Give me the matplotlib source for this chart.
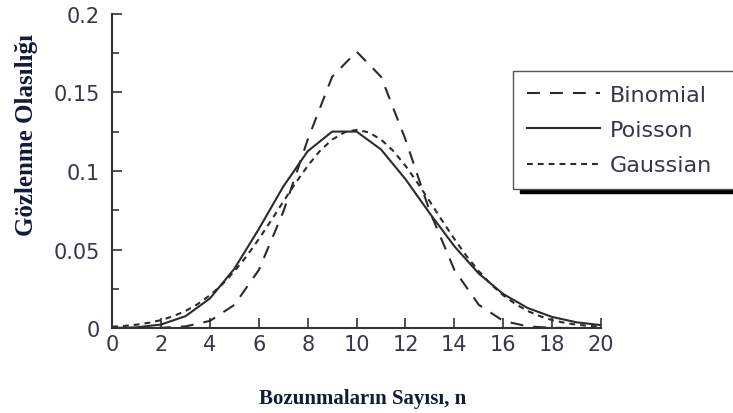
import numpy as np
import matplotlib.pyplot as plt

# number of decays
n = list(range(21))

binomial = [0.0, 0.0, 0.0002, 0.0011, 0.0046, 0.0148, 0.037, 0.074, 0.120, 0.160,
            0.176, 0.160, 0.120, 0.074, 0.037, 0.0148, 0.0046, 0.0011, 0.0002, 0.0, 0.0]
poisson = [0.0001, 0.0005, 0.0023, 0.0076, 0.0189, 0.0378, 0.0631, 0.0901, 0.1126, 0.1251,
           0.1251, 0.1137, 0.0948, 0.0729, 0.0521, 0.0347, 0.0217, 0.0128, 0.0071, 0.0037, 0.0019]

n_fine = [i / 2 for i in range(41)]
gauss_half = [0.0009, 0.0014, 0.0022, 0.0034, 0.0051, 0.0076, 0.0109, 0.0153, 0.0209, 0.0278,
              0.0362, 0.0458, 0.0567, 0.0684, 0.0805, 0.0923, 0.1033, 0.1128, 0.1200, 0.1246,
              0.1262]
gaussian = gauss_half + gauss_half[-2::-1]

xticks = [0, 2, 4, 6, 8, 10, 12, 14, 16, 18, 20]
yticks = [0, 0.05, 0.1, 0.15, 0.2]
ytick_labels = ['0', '0.05', '0.1', '0.15', '0.2']

plt.rcParams['font.family'] = ['DejaVu Sans']

fig = plt.figure(figsize=(7.33, 4.14), dpi=100)
ax = fig.add_axes([0.153, 0.205, 0.667, 0.759])

line_col = '#2b2b2b'
ax.plot(n, binomial, color=line_col, lw=1.5, dashes=(6.2, 4.8), label='Binomial')
ax.plot(n, poisson, color=line_col, lw=1.5, label='Poisson')
ax.plot(n_fine, gaussian, color=line_col, lw=1.5, dashes=(2.8, 2.4), label='Gaussian')

ax.set_xlim(0, 20)
ax.set_ylim(0, 0.2)
ax.spines['top'].set_visible(False)
ax.spines['right'].set_visible(False)
for s in ('left', 'bottom'):
    ax.spines[s].set_color('#333333')
    ax.spines[s].set_linewidth(1.5)

text_col = '#343848'
ax.set_xticks(xticks)
ax.set_yticks(yticks)
ax.set_yticklabels(ytick_labels)
ax.set_yticks(np.arange(0.025, 0.2, 0.05), minor=True)
ax.tick_params(axis='both', which='both', direction='in', color='#333333', width=1.2,
               labelsize=15, labelcolor=text_col)
ax.tick_params(axis='both', which='major', length=7)
ax.tick_params(axis='y', which='minor', length=5)
ax.tick_params(axis='x', pad=4)
ax.tick_params(axis='y', pad=9)

ax.set_ylabel('Gözlenme Olasılığı', family='Liberation Serif', fontweight='bold',
              fontsize=18, color='#121a3a')
ax.yaxis.set_label_coords(-0.151, 0.618)
ax.set_xlabel('Bozunmaların Sayısı, n', family='Liberation Serif', fontweight='bold',
              fontsize=15, color='#121a3a')
ax.xaxis.set_label_coords(0.513, -0.19)

leg = ax.legend(loc='upper left', bbox_to_anchor=(0.700, 0.5, 0.33, 0.326), mode='expand',
                bbox_transform=fig.transFigure, fancybox=False, fontsize=16,
                handlelength=3.3, handletextpad=0.45, borderpad=0.62, borderaxespad=0,
                labelspacing=0.69,
                shadow={'color': 'black', 'alpha': 1.0, 'ox': 5, 'oy': -3})
leg.get_frame().set_edgecolor('#555555')
leg.get_frame().set_linewidth(1.0)
for t in leg.get_texts():
    t.set_color(text_col)

fig.savefig('out.png', dpi=100)
